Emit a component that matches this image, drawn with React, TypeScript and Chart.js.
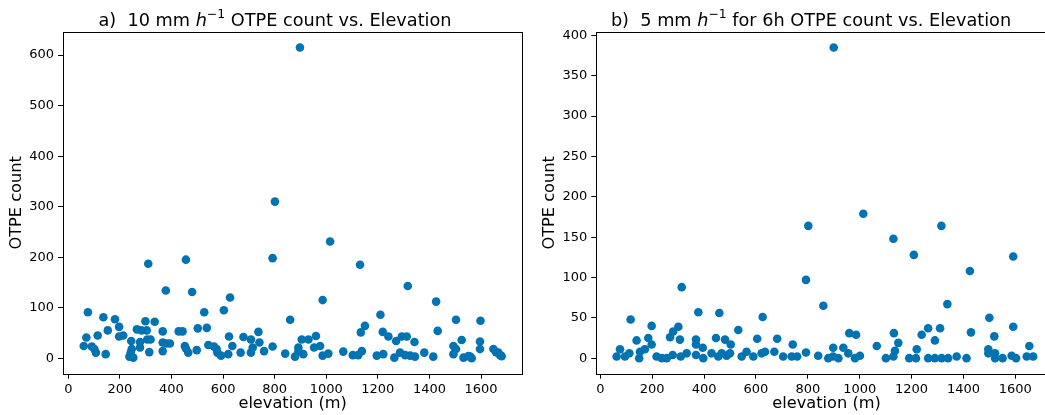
import React, { useEffect, useRef } from "react";
import { Chart, registerables } from "chart.js";
Chart.register(...registerables);

// ---------- data ----------
const elevA = [
  898, 801, 1015, 792, 456, 310, 1131, 1316, 378, 480,
  627, 986, 1426, 603, 527, 76, 1210, 136, 181, 860,
  1503, 1598, 299, 335, 1150, 197, 537, 502, 266, 153,
  284, 304, 1432, 366, 428, 443, 737, 1134, 1219, 1241,
  1293, 1312, 960, 114, 213, 197, 623, 679, 70, 708,
  306, 319, 905, 931, 1525, 244, 1271, 278, 1342, 1596,
  366, 741, 381, 394, 543, 60, 452, 636, 976, 1493,
  91, 565, 792, 278, 715, 953, 892, 101, 246, 575,
  1503, 1596, 1648, 456, 498, 366, 759, 892, 1138, 1066,
  314, 1658, 107, 242, 465, 578, 668, 708, 1286, 1380,
  145, 620, 911, 1221, 1493, 841, 1008, 592, 986, 1196,
  1325, 237, 879, 1344, 1415, 1558, 252, 1264, 1532, 1103,
  1124, 1306, 1674, 1551, 1564, 1680, 1667,
];
const countA = [
  615, 310, 231, 198, 195, 187, 185, 143, 134, 131,
  120, 115, 112, 95, 91, 91, 86, 81, 77, 76,
  76, 74, 73, 72, 64, 62, 60, 59, 57, 55,
  55, 55, 54, 53, 53, 53, 52, 51, 52, 43,
  43, 43, 44, 45, 45, 43, 43, 42, 41, 37,
  37, 37, 37, 37, 36, 34, 34, 32, 32, 33,
  31, 31, 29, 29, 26, 24, 24, 24, 24, 24,
  23, 23, 23, 21, 21, 21, 21, 18, 18, 18,
  18, 18, 18, 19, 16, 14, 14, 14, 14, 13,
  12, 12, 11, 11, 11, 11, 11, 11, 11, 11,
  8, 8, 8, 8, 8, 9, 9, 5, 5, 5,
  5, 3, 3, 3, 3, 3, 1, 1, 1, 6,
  6, 6, 6, 4, 0, 4, 11,
];

const elevB = [
  900, 802, 1014, 1130, 1209, 1315, 1592, 1425, 793, 314,
  860, 1338, 378, 459, 626, 1500, 117, 198, 1592, 301,
  532, 281, 1264, 1310, 1429, 960, 986, 1132, 1239, 1519,
  269, 185, 446, 605, 682, 307, 369, 481, 140, 1290,
  1149, 198, 369, 503, 742, 1066, 1654, 395, 898, 937,
  172, 1496, 1220, 76, 1136, 153, 564, 635, 671, 793,
  333, 429, 468, 500, 956, 1522, 112, 279, 369, 622,
  1496, 487, 840, 1001, 1586, 63, 95, 217, 310, 455,
  545, 590, 705, 738, 759, 898, 1374, 1130, 1644, 1669,
  150, 237, 256, 397, 879, 918, 982, 1101, 1191, 1217,
  1264, 1290, 1316, 1341, 1412, 1522, 1551, 1603,
];
const countB = [
  385, 164, 179, 148, 128, 164, 126, 108, 97, 88,
  65, 67, 57, 56, 51, 50, 48, 40, 39, 39,
  35, 33, 37, 37, 32, 31, 29, 31, 29, 27,
  26, 25, 25, 24, 24, 23, 23, 23, 22, 22,
  19, 17, 17, 17, 17, 15, 15, 13, 13, 13,
  11, 11, 11, 11, 9, 8, 8, 8, 8, 7,
  6, 6, 6, 6, 6, 6, 6, 4, 4, 6,
  6, 3, 3, 3, 3, 2, 2, 2, 2, 2,
  2, 2, 2, 2, 2, 2, 2, 2, 2, 2,
  0, 0, 0, 0, 0, 0, 0, 0, 0, 0,
  0, 0, 0, 0, 0, 0, 0, 0,
];

const xTicks = [0, 200, 400, 600, 800, 1000, 1200, 1400, 1600];
const xTickLabels = ["0", "200", "400", "600", "800", "1000", "1200", "1400", "1600"];
const yTicksA = [0, 100, 200, 300, 400, 500, 600];
const yTickLabelsA = ["0", "100", "200", "300", "400", "500", "600"];
const yTicksB = [0, 50, 100, 150, 200, 250, 300, 350, 400];
const yTickLabelsB = ["0", "50", "100", "150", "200", "250", "300", "350", "400"];

const titleA = [
  { text: "a)  10 mm " },
  { text: "h", italic: true },
  { text: "\u22121", sup: true },
  { text: " OTPE count vs. Elevation" },
];
const titleB = [
  { text: "b)  5 mm " },
  { text: "h", italic: true },
  { text: "\u22121", sup: true },
  { text: " for 6h OTPE count vs. Elevation" },
];
const xLabel = "elevation (m)";
const yLabel = "OTPE count";

// ---------- styling ----------
const FONT = "'DejaVu Sans', sans-serif";
const BLUE = "#0173B2";
const TICK_SIZE = 13;
const LABEL_SIZE = 16.2;
const TITLE_SIZE = 17.7;

const titlePlugin = {
  id: "mplTitle",
  afterDraw(chart: any, _a: any, opts: any) {
    const ctx = chart.ctx;
    const size = opts.size;
    const fontFor = (p: any) =>
      p.sup ? `${size * 0.7}px ${FONT}` : p.italic ? `italic ${size}px ${FONT}` : `${size}px ${FONT}`;
    ctx.save();
    ctx.fillStyle = "#000";
    ctx.textBaseline = "alphabetic";
    ctx.textAlign = "left";
    let total = 0;
    const widths = opts.parts.map((p: any) => {
      ctx.font = fontFor(p);
      const w = ctx.measureText(p.text).width;
      total += w;
      return w;
    });
    let x = opts.cx - total / 2;
    opts.parts.forEach((p: any, i: number) => {
      ctx.font = fontFor(p);
      ctx.fillText(p.text, x, p.sup ? opts.baseline - size * 0.42 : opts.baseline);
      x += widths[i];
    });
    ctx.restore();
  },
};

const framePlugin = {
  id: "mplFrame",
  afterDraw(chart: any) {
    const { ctx, chartArea } = chart;
    ctx.save();
    ctx.strokeStyle = "#000";
    ctx.lineWidth = 1;
    const l = Math.round(chartArea.left) + 0.5;
    const t = Math.round(chartArea.top) + 0.5;
    const r = Math.round(chartArea.right) + 0.5;
    const b = Math.round(chartArea.bottom) + 0.5;
    ctx.strokeRect(l, t, r - l, b - t);
    ctx.restore();
  },
};

type PanelCfg = {
  elev: number[];
  count: number[];
  xMin: number;
  xMax: number;
  yMin: number;
  yMax: number;
  yTicks: number[];
  yTickLabels: string[];
  yAxisWidth: number;
  padRight: number;
  yTitlePad: number;
  title: any[];
  titleCx: number;
};

function buildConfig(c: PanelCfg): any {
  const data = c.elev.map((x, i) => ({ x, y: c.count[i] }));
  const gridCfg = {
    display: true,
    drawOnChartArea: false,
    drawTicks: true,
    tickLength: 5,
    color: "#000",
    lineWidth: 1,
  };
  return {
    type: "scatter",
    data: {
      datasets: [
        {
          data,
          backgroundColor: BLUE,
          borderWidth: 0,
          pointRadius: 4.3,
          pointHoverRadius: 4.3,
        },
      ],
    },
    plugins: [titlePlugin, framePlugin],
    options: {
      animation: false,
      responsive: false,
      devicePixelRatio: 1,
      events: [],
      layout: { padding: { top: 32, left: 0, right: c.padRight, bottom: 0 } },
      plugins: {
        legend: { display: false },
        tooltip: { enabled: false },
        title: { display: false },
        mplTitle: { parts: c.title, cx: c.titleCx, baseline: 25.5, size: TITLE_SIZE },
      },
      scales: {
        x: {
          type: "linear",
          min: c.xMin,
          max: c.xMax,
          afterBuildTicks: (s: any) => {
            s.ticks = xTicks.map((v) => ({ value: v }));
          },
          afterFit: (s: any) => {
            s.height = 41.3;
          },
          grid: gridCfg,
          border: { display: false },
          ticks: {
            color: "#000",
            font: { family: FONT, size: TICK_SIZE },
            padding: 3,
            maxRotation: 0,
            autoSkip: false,
            callback: (_v: any, i: number) => xTickLabels[i],
          },
          title: {
            display: true,
            text: xLabel,
            color: "#000",
            font: { family: FONT, size: LABEL_SIZE },
            padding: { top: 0, bottom: 1.4 },
          },
        },
        y: {
          type: "linear",
          min: c.yMin,
          max: c.yMax,
          afterBuildTicks: (s: any) => {
            s.ticks = c.yTicks.map((v) => ({ value: v }));
          },
          afterFit: (s: any) => {
            s.width = c.yAxisWidth;
          },
          grid: gridCfg,
          border: { display: false },
          ticks: {
            color: "#000",
            font: { family: FONT, size: TICK_SIZE },
            padding: 4,
            autoSkip: false,
            callback: (_v: any, i: number) => c.yTickLabels[i],
          },
          title: {
            display: true,
            text: yLabel,
            color: "#000",
            font: { family: FONT, size: LABEL_SIZE },
            padding: { top: c.yTitlePad, bottom: 0 },
          },
        },
      },
    },
  };
}

const panelA: PanelCfg = {
  elev: elevA,
  count: countA,
  xMin: -20.5,
  xMax: 1760,
  yMin: -30.75,
  yMax: 645.75,
  yTicks: yTicksA,
  yTickLabels: yTickLabelsA,
  yAxisWidth: 63,
  padRight: 7.7,
  yTitlePad: 6.8,
  title: titleA,
  titleCx: 275,
};

const panelB: PanelCfg = {
  elev: elevB,
  count: countB,
  xMin: -15.4,
  xMax: 1760,
  yMin: -19.25,
  yMax: 404.25,
  yTicks: yTicksB,
  yTickLabels: yTickLabelsB,
  yAxisWidth: 66.3,
  padRight: 13.2,
  yTitlePad: 9.8,
  title: titleB,
  titleCx: 281,
};

function Panel({ cfg, left, width }: { cfg: PanelCfg; left: number; width: number }) {
  const ref = useRef<HTMLCanvasElement>(null);
  useEffect(() => {
    const chart = new Chart(ref.current as HTMLCanvasElement, buildConfig(cfg));
    return () => chart.destroy();
  }, [cfg]);
  return (
    <canvas
      ref={ref}
      width={width}
      height={415}
      style={{ position: "absolute", left, top: 0, width, height: 415 }}
    />
  );
}

export default function App() {
  return (
    <div
      style={{
        position: "fixed",
        left: 0,
        top: 0,
        width: 1045,
        height: 415,
        overflow: "hidden",
        background: "#fff",
      }}
    >
      <Panel cfg={panelA} left={0} width={530} />
      <Panel cfg={panelB} left={530} width={540} />
    </div>
  );
}
